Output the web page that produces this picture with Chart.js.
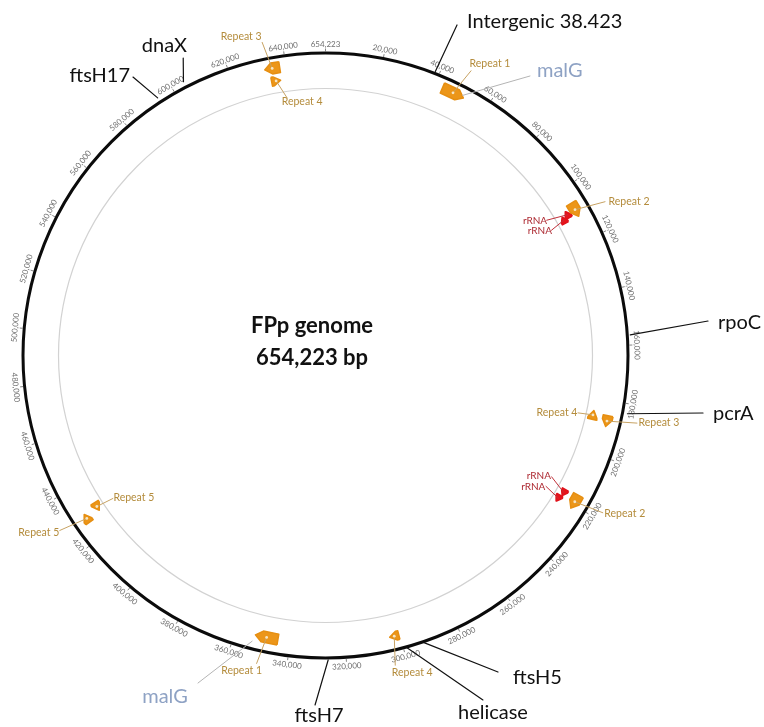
<!DOCTYPE html>
<html>
<head>
<meta charset="utf-8">
<title>FPp genome map</title>
<script src="https://cdn.jsdelivr.net/npm/chart.js@4/dist/chart.umd.min.js"></script>
<style>
  html, body { margin: 0; padding: 0; background: #ffffff; }
  canvas { display: block; }
</style>
</head>
<body>
<canvas id="map" width="764" height="727"></canvas>
<script>
// ---- genome and annotation data (base pairs) ----
const GENOME_LENGTH = 654223;
const genomeTitle = ['FPp genome', '654,223 bp'];

const tickPositions = [0, 20000, 40000, 60000, 80000, 100000, 120000, 140000, 160000,
  180000, 200000, 220000, 240000, 260000, 280000, 300000, 320000, 340000, 360000,
  380000, 400000, 420000, 440000, 460000, 480000, 500000, 520000, 540000, 560000,
  580000, 600000, 620000, 640000];
const tickLabels = tickPositions.map(p => (p === 0 ? GENOME_LENGTH : p).toLocaleString('en-US'));

const repeatNames  = ['Repeat 1', 'Repeat 1', 'Repeat 2', 'Repeat 2', 'Repeat 3', 'Repeat 3',
                      'Repeat 4', 'Repeat 4', 'Repeat 4', 'Repeat 5', 'Repeat 5'];
const repeatStart  = [42900, 344400, 105800, 216100, 632400, 185400, 634000, 184600, 300400, 428200, 426600];
const repeatEnd    = [51200, 352700, 111200, 221500, 637800, 189400, 637400, 188000, 303800, 431600, 430000];
const repeatStrand = [1, 1, 1, 1, -1, 1, 1, -1, 1, -1, 1];

const rrnaNames  = ['rRNA', 'rRNA', 'rRNA', 'rRNA'];
const rrnaStart  = [107400, 108500, 216600, 219500];
const rrnaEnd    = [110000, 111100, 219200, 222100];
const rrnaStrand = [-1, -1, 1, 1];

const geneNames     = ['Intergenic 38.423', 'rpoC', 'pcrA', 'ftsH5', 'helicase', 'ftsH7', 'ftsH17', 'dnaX'];
const genePositions = [38423, 156500, 183400, 292700, 298800, 326200, 594100, 604400];

const malGNames     = ['malG', 'malG'];
const malGPositions = [50500, 353300];

// ---- drawing layout (pixels) ----
const RING_R = 302.5;      // backbone radius
const INNER_R = 267;       // inner guide circle
const repeatTrack = [292, 288, 289, 289, 292, 289, 279, 274, 289, 274, 289];
const repeatHalfWidth = [5.5, 5.5, 5.5, 5.5, 5.5, 5, 4.5, 4.5, 4.5, 4.5, 4.5];
const rrnaTrack   = [280, 274, 275, 273];
// [leader end dx, dy, text dx, dy, align] relative to glyph centre
const repeatLabelLayout = [
  [18, -22, 37, -29, 'center'], [-10, 26, -25, 33, 'center'],
  [30, -8, 54, -8, 'center'],   [28, 11, 50, 12, 'center'],
  [-10, -26, -31, -32, 'center'], [30, 2, 52, 2, 'center'],
  [11, 17, 26, 21, 'center'],   [-15, -2, -36, -2, 'center'],
  [1, 29, 18, 36, 'center'],    [16, -8, 37, -9, 'center'],
  [-27, 12, -48, 14, 'center']
];
const rrnaLabelLayout = [
  [-20.8, 5.5, -32.5, 6.5, 'center'], [-12.3, 10, -24, 11, 'center'],
  [-12.3, -15.8, -25, -16.5, 'center'], [-12.3, -11.8, -25, -11.5, 'center']
];
// [radial gap, leader end dx, dy, text dx, dy, align] relative to backbone point
const geneLabelLayout = [
  [2, 22.4, -48.4, 32.4, -51.4, 'left'],
  [3, 80.7, -14, 90.7, -12, 'left'],
  [5, 80.5, 0.2, 90.5, 1.2, 'left'],
  [1, 74.3, 30.4, 89.3, 36.4, 'left'],
  [1, 76.2, 53.1, 86.2, 66.1, 'center'],
  [2, -13.1, 47, -9.1, 58, 'center'],
  [5, -27.4, -25, -30.4, -26, 'right'],
  [6, -3, -28.9, -21.8, -41.9, 'center']
];
// [anchor radius, leader end dx, dy, text dx, dy, align]
const malGLabelLayout = [
  [294, 67.4, -19.4, 74.4, -24.9, 'left'],
  [295, -54.1, 41.8, -87.1, 55.8, 'center']
];

const TAU = Math.PI * 2;
const angleOf = bp => TAU * bp / GENOME_LENGTH;

// Outline of a strand-aware arrow glyph, in chart units (1 unit = 1 px of radius)
function arrowOutline(start, end, strand, r, halfW, headPx) {
  const a0 = angleOf(start), a1 = angleOf(end);
  const head = Math.min(a1 - a0, headPx / r);
  const pt = (a, rr) => ({ x: rr * Math.sin(a), y: rr * Math.cos(a) });
  if (strand > 0) {
    const ah = a1 - head;
    return [pt(a0, r + halfW), pt(ah, r + halfW), pt(a1, r), pt(ah, r - halfW), pt(a0, r - halfW), pt(a0, r + halfW)];
  }
  const ah = a0 + head;
  return [pt(a1, r + halfW), pt(ah, r + halfW), pt(a0, r), pt(ah, r - halfW), pt(a1, r - halfW), pt(a1, r + halfW)];
}

const datasets = [];
repeatStart.forEach((s, i) => datasets.push({
  label: repeatNames[i],
  data: arrowOutline(s, repeatEnd[i], repeatStrand[i], repeatTrack[i], repeatHalfWidth[i], 7),
  backgroundColor: '#ec9619', borderColor: '#e68f12', borderWidth: 1.5,
  borderJoinStyle: 'round', fill: 'shape', pointRadius: 0, tension: 0
}));
rrnaStart.forEach((s, i) => datasets.push({
  label: rrnaNames[i],
  data: arrowOutline(s, rrnaEnd[i], rrnaStrand[i], rrnaTrack[i], 3.5, 5),
  backgroundColor: '#e8141c', borderColor: '#e0121a', borderWidth: 1.5,
  borderJoinStyle: 'round', fill: 'shape', pointRadius: 0, tension: 0
}));

function geom(chart) {
  const xs = chart.scales.x, ys = chart.scales.y;
  const cx = xs.getPixelForValue(0), cy = ys.getPixelForValue(0);
  const k = xs.getPixelForValue(1) - cx;
  const polar = (bp, r) => {
    const a = angleOf(bp);
    return [cx + r * k * Math.sin(a), cy - r * k * Math.cos(a)];
  };
  return { cx, cy, k, polar };
}

function leader(ctx, x0, y0, x1, y1, color, width) {
  ctx.strokeStyle = color; ctx.lineWidth = width;
  ctx.beginPath(); ctx.moveTo(x0, y0); ctx.lineTo(x1, y1); ctx.stroke();
}
function label(ctx, text, x, y, align, font, color) {
  ctx.font = font; ctx.fillStyle = color;
  ctx.textAlign = align; ctx.textBaseline = 'middle';
  ctx.fillText(text, x, y);
}

const genomeMapPlugin = {
  id: 'genomeMap',
  beforeDatasetsDraw(chart) {
    const { ctx } = chart;
    const g = geom(chart);
    ctx.save();
    ctx.strokeStyle = '#d2d2d2'; ctx.lineWidth = 1.2;
    ctx.beginPath(); ctx.arc(g.cx, g.cy, INNER_R * g.k, 0, TAU); ctx.stroke();
    ctx.strokeStyle = '#0b0b0b'; ctx.lineWidth = 3;
    ctx.beginPath(); ctx.arc(g.cx, g.cy, RING_R * g.k, 0, TAU); ctx.stroke();

    // position ticks and their labels
    tickPositions.forEach((p, i) => {
      const [x0, y0] = g.polar(p, RING_R + 1.5);
      const [x1, y1] = g.polar(p, RING_R + 4.5);
      leader(ctx, x0, y0, x1, y1, '#666666', 0.8);
      const a = angleOf(p);
      const [lx, ly] = g.polar(p, RING_R + 9);
      ctx.save();
      ctx.translate(lx, ly);
      ctx.rotate(a > Math.PI / 2 && a < Math.PI * 1.5 ? a - Math.PI : a);
      label(ctx, tickLabels[i], 0, 0, 'center', '8px Lato', '#707070');
      ctx.restore();
    });
    ctx.restore();
  },
  afterDatasetsDraw(chart) {
    const { ctx } = chart;
    const g = geom(chart);
    ctx.save();
    ctx.lineCap = 'round';

    // repeat labels
    repeatStart.forEach((s, i) => {
      const [gx, gy] = g.polar((s + repeatEnd[i]) / 2, repeatTrack[i]);
      const [ldx, ldy, tdx, tdy, align] = repeatLabelLayout[i];
      leader(ctx, gx, gy, gx + ldx, gy + ldy, '#c7a262', 1);
      ctx.fillStyle = '#f6e6c6';
      ctx.beginPath(); ctx.arc(gx, gy, 1.4, 0, TAU); ctx.fill();
      label(ctx, repeatNames[i], gx + tdx, gy + tdy, align, '10.5px Lato', '#b48c3c');
    });

    // rRNA labels
    rrnaStart.forEach((s, i) => {
      const [gx, gy] = g.polar((s + rrnaEnd[i]) / 2, rrnaTrack[i]);
      const [ldx, ldy, tdx, tdy, align] = rrnaLabelLayout[i];
      leader(ctx, gx, gy, gx + ldx, gy + ldy, '#c0303a', 1);
      label(ctx, rrnaNames[i], gx + tdx, gy + tdy, align, '10px Lato', '#ad2a32');
    });

    // gene markers
    genePositions.forEach((p, i) => {
      const [gap, ldx, ldy, tdx, tdy, align] = geneLabelLayout[i];
      const [rx, ry] = g.polar(p, RING_R);
      const [sx, sy] = g.polar(p, RING_R + gap);
      leader(ctx, sx, sy, rx + ldx, ry + ldy, '#111111', 1.2);
      label(ctx, geneNames[i], rx + tdx, ry + tdy, align, '20px Lato', '#111111');
    });

    // malG markers
    malGPositions.forEach((p, i) => {
      const [r, ldx, ldy, tdx, tdy, align] = malGLabelLayout[i];
      const [ax, ay] = g.polar(p, r);
      leader(ctx, ax, ay, ax + ldx, ay + ldy, '#b4b4b4', 1);
      label(ctx, malGNames[i], ax + tdx, ay + tdy, align, '20px Lato', '#8ea2c4');
    });

    // centre title
    label(ctx, genomeTitle[0], g.cx - 13.5, g.cy - 29.5, 'center', 'bold 22px Lato', '#111111');
    label(ctx, genomeTitle[1], g.cx - 13.5, g.cy + 2.5, 'center', 'bold 22px Lato', '#111111');
    ctx.restore();
  }
};

function draw() {
  new Chart(document.getElementById('map'), {
    type: 'line',
    data: { datasets },
    plugins: [genomeMapPlugin],
    options: {
      responsive: false,
      maintainAspectRatio: false,
      animation: false,
      layout: { padding: { left: 0.5, right: 113.5, top: 30.5, bottom: 46.5 } },
      scales: {
        x: { type: 'linear', min: -325, max: 325, display: false },
        y: { type: 'linear', min: -325, max: 325, display: false }
      },
      plugins: { legend: { display: false }, tooltip: { enabled: false } },
      elements: { line: { tension: 0 } }
    }
  });
}

Promise.all([
  document.fonts.load('20px Lato'),
  document.fonts.load('bold 22px Lato')
]).then(draw, draw);
</script>
</body>
</html>
